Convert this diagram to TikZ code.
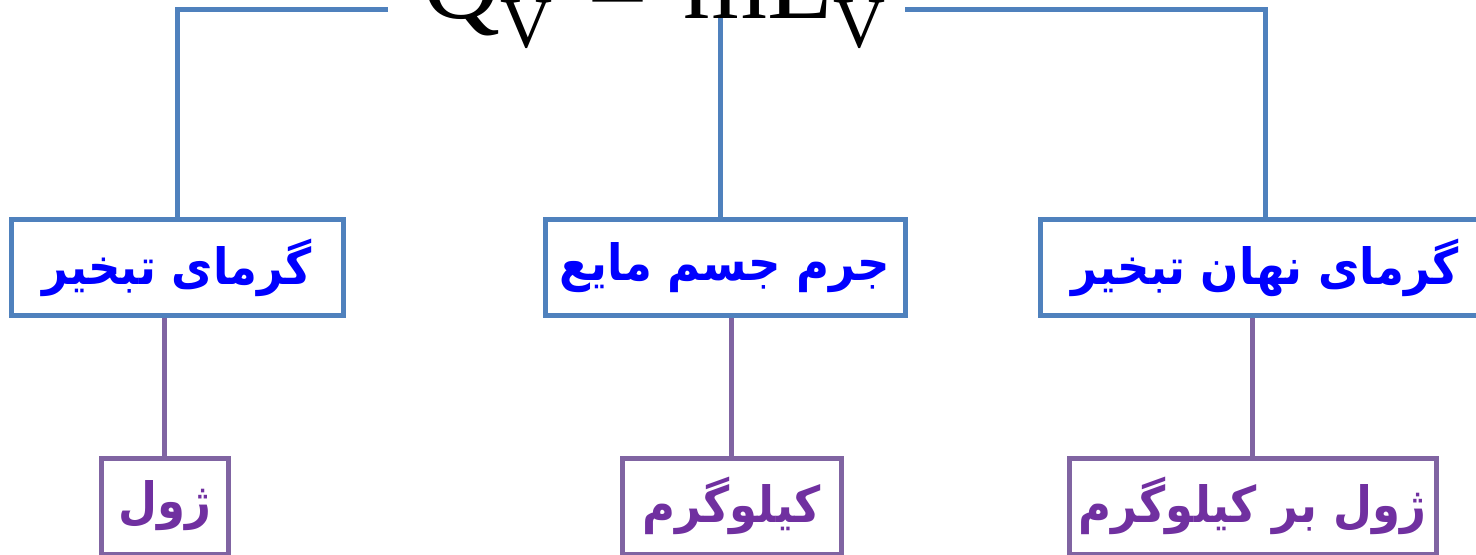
\documentclass[tikz,border=0pt]{standalone}
\usepackage{fontspec}
\usepackage{tikz}
\TeXXeTstate=1
\newfontfamily\arabicfont[Script=Arabic,FakeStretch=0.9]{DejaVu Sans}
\newfontfamily\eqfont{Liberation Serif}
\definecolor{lineblue}{HTML}{4F81BD}
\definecolor{linepurple}{HTML}{8064A2}
\definecolor{textblue}{HTML}{0000FF}
\definecolor{textpurple}{HTML}{7030A0}
\newcommand{\lowsub}[1]{\raisebox{-0.26em}{\fontsize{36}{36}\selectfont #1}}
\tikzset{
  topbox/.style={draw=lineblue,line width=2.5pt,fill=white,inner sep=0pt,
    minimum width=#1,minimum height=48pt,text=textblue,
    font=\arabicfont\bfseries\fontsize{25}{28}\selectfont},
  unitbox/.style={draw=linepurple,line width=2.5pt,fill=white,inner sep=0pt,
    minimum width=#1,minimum height=48pt,text=textpurple,
    font=\arabicfont\bfseries\fontsize{25}{28}\selectfont},
  blueline/.style={draw=lineblue,line width=2.5pt},
  purpleline/.style={draw=linepurple,line width=2.5pt}
}

\begin{document}
\begin{tikzpicture}[x=0.5pt,y=-0.5pt]
  \clip (0,0) rectangle (1476,555);
  % equation at the top
  \node[anchor=base west,inner sep=0pt,font=\eqfont\fontsize{54}{54}\selectfont]
    (eq) at (422,19) {Q\lowsub{V}\hspace{4pt} \raisebox{-3pt}{=}\hspace{4pt} mL\lowsub{V}};
  \coordinate (eqL) at (388,10);
  \coordinate (eqR) at (905,10);
  \coordinate (eqB) at (720,18);
  % quantities
  \node[topbox=166pt] (heat) at (177,268) {\beginR گرمای تبخیر\endR};
  \node[topbox=180pt] (mass) at (725,268) {\beginR جرم جسم مایع\endR};
  \node[topbox=225pt] (latent) at (1265,268) {\beginR گرمای نهان تبخیر\endR};
  % units
  \node[unitbox=63.5pt] (joule) at (164.5,506) {\beginR ژول\endR};
  \node[unitbox=109.5pt] (kilo) at (731.5,506) {\beginR کیلوگرم\endR};
  \node[unitbox=183.5pt] (jkilo) at (1252.5,506) {\beginR ژول بر کیلوگرم\endR};
  \draw[blueline] (eqL) -| (heat.north);
  \draw[blueline] (eqB) -- (eqB |- mass.north);
  \draw[blueline] (eqR) -| (latent.north);
  \draw[purpleline] (joule.north) -- (joule.north |- heat.south);
  \draw[purpleline] (kilo.north) -- (kilo.north |- mass.south);
  \draw[purpleline] (jkilo.north) -- (jkilo.north |- latent.south);
\end{tikzpicture}
\end{document}
